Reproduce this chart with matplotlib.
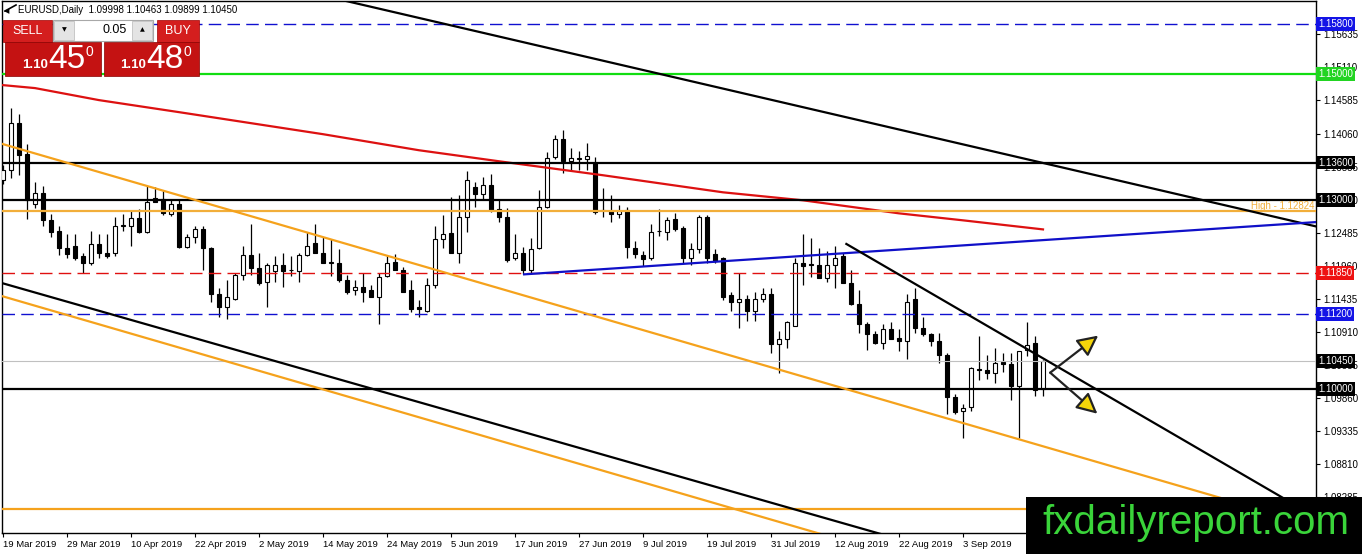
import numpy as np
import matplotlib
matplotlib.use("Agg")
import matplotlib.pyplot as plt
from matplotlib.patches import Rectangle

# ---- EURUSD daily candles, 19 Mar 2019 .. 17 Sep 2019 (bar index 0..130) ----
opens = [1.1332, 1.1348, 1.1423, 1.1373, 1.1294, 1.1311, 1.1268, 1.1251, 1.1225, 1.1228,
         1.1211, 1.1200, 1.1230, 1.1217, 1.1216, 1.1259, 1.1260, 1.1272, 1.1250, 1.1303,
         1.1302, 1.1278, 1.1294, 1.1226, 1.1241, 1.1255, 1.1224, 1.1152, 1.1130, 1.1144,
         1.1182, 1.1213, 1.1193, 1.1170, 1.1187, 1.1197, 1.1190, 1.1188, 1.1213, 1.1233,
         1.1217, 1.1200, 1.1200, 1.1173, 1.1158, 1.1163, 1.1157, 1.1146, 1.1180, 1.1202,
         1.1189, 1.1158, 1.1130, 1.1125, 1.1165, 1.1238, 1.1248, 1.1217, 1.1273, 1.1321,
         1.1310, 1.1324, 1.1286, 1.1273, 1.1209, 1.1216, 1.1190, 1.1224, 1.1289, 1.1368,
         1.1397, 1.1362, 1.1366, 1.1366, 1.1359, 1.1285, 1.1283, 1.1278, 1.1284, 1.1225,
         1.1213, 1.1208, 1.1251, 1.1250, 1.1270, 1.1256, 1.1208, 1.1222, 1.1273, 1.1215,
         1.1208, 1.1149, 1.1138, 1.1144, 1.1125, 1.1143, 1.1152, 1.1072, 1.1080, 1.1101,
         1.1200, 1.1199, 1.1197, 1.1176, 1.1197, 1.1211, 1.1168, 1.1136, 1.1104, 1.1088,
         1.1074, 1.1096, 1.1081, 1.1077, 1.1144, 1.1098, 1.1087, 1.1076, 1.1054, 1.0987,
         1.0965, 1.0971, 1.1032, 1.1031, 1.1025, 1.1044, 1.1040, 1.1005, 1.1062, 1.1073,
         1.09998]
highs = [1.1356, 1.1446, 1.1437, 1.1390, 1.1329, 1.1322, 1.1279, 1.1260, 1.1246, 1.1247,
         1.1216, 1.1251, 1.1246, 1.1246, 1.1273, 1.1279, 1.1284, 1.1286, 1.1322, 1.1321,
         1.1316, 1.1300, 1.1300, 1.1246, 1.1260, 1.1260, 1.1226, 1.1160, 1.1173, 1.1185,
         1.1227, 1.1263, 1.1216, 1.1201, 1.1211, 1.1216, 1.1211, 1.1216, 1.1249, 1.1262,
         1.1241, 1.1239, 1.1222, 1.1181, 1.1173, 1.1185, 1.1165, 1.1185, 1.1213, 1.1214,
         1.1194, 1.1173, 1.1141, 1.1177, 1.1260, 1.1276, 1.1305, 1.1308, 1.1346, 1.1329,
         1.1337, 1.1341, 1.1300, 1.1287, 1.1246, 1.1226, 1.1240, 1.1316, 1.1377, 1.1403,
         1.1411, 1.1383, 1.1379, 1.1391, 1.1369, 1.1319, 1.1308, 1.1292, 1.1290, 1.1236,
         1.1220, 1.1262, 1.1286, 1.1273, 1.1280, 1.1259, 1.1232, 1.1276, 1.1276, 1.1223,
         1.1210, 1.1154, 1.1185, 1.1149, 1.1154, 1.1160, 1.1160, 1.1093, 1.1109, 1.1209,
         1.1247, 1.1240, 1.1225, 1.1220, 1.1228, 1.1216, 1.1189, 1.1157, 1.1106, 1.1092,
         1.1104, 1.1106, 1.1096, 1.1152, 1.1160, 1.1114, 1.1090, 1.1090, 1.1058, 1.0992,
         1.0976, 1.1036, 1.1084, 1.1055, 1.1066, 1.1058, 1.1058, 1.1061, 1.1107, 1.1084,
         1.10463]
lows = [1.1326, 1.1335, 1.1340, 1.1271, 1.1287, 1.1260, 1.1241, 1.1213, 1.1208, 1.1206,
        1.1184, 1.1198, 1.1209, 1.1208, 1.1211, 1.1252, 1.1228, 1.1248, 1.1248, 1.1297,
        1.1276, 1.1275, 1.1225, 1.1224, 1.1233, 1.1189, 1.1138, 1.1115, 1.1111, 1.1142,
        1.1173, 1.1182, 1.1166, 1.1131, 1.1170, 1.1163, 1.1180, 1.1171, 1.1211, 1.1217,
        1.1200, 1.1180, 1.1171, 1.1152, 1.1149, 1.1139, 1.1146, 1.1104, 1.1178, 1.1189,
        1.1155, 1.1122, 1.1114, 1.1123, 1.1160, 1.1225, 1.1216, 1.1200, 1.1249, 1.1289,
        1.1300, 1.1282, 1.1265, 1.1202, 1.1206, 1.1183, 1.1184, 1.1222, 1.1287, 1.1366,
        1.1343, 1.1348, 1.1348, 1.1348, 1.1279, 1.1273, 1.1265, 1.1272, 1.1209, 1.1208,
        1.1195, 1.1206, 1.1244, 1.1237, 1.1252, 1.1201, 1.1198, 1.1217, 1.1201, 1.1201,
        1.1142, 1.1125, 1.1098, 1.1109, 1.1109, 1.1139, 1.1058, 1.1025, 1.1066, 1.1101,
        1.1165, 1.1178, 1.1176, 1.1170, 1.1160, 1.1168, 1.1133, 1.1090, 1.1063, 1.1072,
        1.1064, 1.1079, 1.1060, 1.1048, 1.1090, 1.1085, 1.1069, 1.1041, 1.0961, 1.0961,
        1.0923, 1.0966, 1.1014, 1.1017, 1.1010, 1.1028, 1.0983, 1.0923, 1.1053, 1.0990,
        1.09899]
closes = [1.1348, 1.1423, 1.1372, 1.1300, 1.1311, 1.1268, 1.1249, 1.1225, 1.1214, 1.1209,
          1.1200, 1.1230, 1.1217, 1.1211, 1.1260, 1.1261, 1.1272, 1.1250, 1.1297, 1.1297,
          1.1280, 1.1294, 1.1226, 1.1242, 1.1254, 1.1224, 1.1152, 1.1130, 1.1146, 1.1182,
          1.1213, 1.1193, 1.1168, 1.1198, 1.1197, 1.1187, 1.1189, 1.1213, 1.1228, 1.1217,
          1.1200, 1.1202, 1.1173, 1.1154, 1.1163, 1.1155, 1.1146, 1.1178, 1.1200, 1.1189,
          1.1155, 1.1127, 1.1128, 1.1166, 1.1238, 1.1247, 1.1217, 1.1273, 1.1332, 1.1310,
          1.1324, 1.1284, 1.1273, 1.1205, 1.1216, 1.1189, 1.1223, 1.1289, 1.1367, 1.1397,
          1.1362, 1.1367, 1.1367, 1.1371, 1.1281, 1.1284, 1.1278, 1.1283, 1.1226, 1.1214,
          1.1207, 1.1250, 1.1252, 1.1269, 1.1254, 1.1209, 1.1222, 1.1273, 1.1208, 1.1204,
          1.1146, 1.1138, 1.1144, 1.1125, 1.1143, 1.1152, 1.1072, 1.1080, 1.1106, 1.1200,
          1.1195, 1.1197, 1.1176, 1.1197, 1.1209, 1.1168, 1.1136, 1.1104, 1.1087, 1.1074,
          1.1096, 1.1080, 1.1077, 1.1139, 1.1098, 1.1088, 1.1076, 1.1054, 1.0987, 1.0964,
          1.0970, 1.1033, 1.1031, 1.1025, 1.1042, 1.1040, 1.1005, 1.1061, 1.1071, 1.0998,
          1.10450]

date_labels = ['19 Mar 2019', '29 Mar 2019', '10 Apr 2019', '22 Apr 2019', '2 May 2019',
               '14 May 2019', '24 May 2019', '5 Jun 2019', '17 Jun 2019', '27 Jun 2019',
               '9 Jul 2019', '19 Jul 2019', '31 Jul 2019', '12 Aug 2019', '22 Aug 2019',
               '3 Sep 2019']
date_every = 8

price_ticks = [1.15635, 1.15110, 1.14585, 1.14060, 1.13535, 1.13010, 1.12485, 1.11960,
               1.11435, 1.10910, 1.10385, 1.09860, 1.09335, 1.08810, 1.08285]

# moving average (red) read at a few bars
ma_bars = [0, 4, 12, 22, 40, 52, 62, 75, 90, 100, 112, 120, 130]
ma_vals = [1.14829, 1.14782, 1.14591, 1.14400, 1.14050, 1.13795, 1.13620, 1.13398,
           1.13127, 1.13000, 1.12793, 1.12682, 1.12538]

# horizontal levels
hl_prices = [1.1580, 1.1500, 1.1360, 1.1300, 1.12824, 1.1185, 1.1120, 1.1045, 1.1000, 1.0810]
hl_colors = ['#1010d0', '#11dd11', 'black', 'black', '#f2ae3a', '#e01010', '#1010d0',
             '#c0c0c0', 'black', '#f5a21c']
hl_dashed = [True, False, False, False, False, True, True, False, False, False]
hl_widths = [1.0, 1.6, 1.6, 1.6, 1.6, 1.0, 1.0, 0.8, 1.6, 1.6]

box_prices = [1.1580, 1.1500, 1.1360, 1.1300, 1.1185, 1.1120, 1.1045, 1.1000]
box_colors = ['#1414e6', '#22d422', 'black', 'black', '#ee1111', '#1414e6', 'black', 'black']

# trend lines: (bar, price) anchors
black_top = [(43.4, 1.16150), (130, 1.13593)]
orange_up = [(0, 1.13892), (130, 1.09094)]
orange_dn = [(0, 1.11474), (100, 1.07783)]
black_dn = [(0, 1.11681), (100, 1.08054)]
blue_tl = [(65, 1.11823), (130, 1.12368)]
black_short = [(105.3, 1.12316), (130, 1.10491)]
arrow_apex = (130.9, 1.10263)
arrow_up = (136.9, 1.10852)
arrow_down = (136.8, 1.09611)

W, H = 1362, 554
fig = plt.figure(figsize=(W / 100, H / 100), dpi=100)
plt.rcParams['font.family'] = ['Liberation Sans', 'DejaVu Sans']

ax_l, ax_r, ax_t, ax_b = 2, 1316, 1, 533
ax = fig.add_axes([ax_l / W, 1 - ax_b / H, (ax_r - ax_l) / W, (ax_b - ax_t) / H])
ax.set_xlim(-0.125, 164.125)
ax.set_ylim(1.07717, 1.16165)

# candles
n = len(opens)
x = np.arange(n)
o = np.array(opens); h = np.array(highs); l = np.array(lows); c = np.array(closes)
up = c >= o
ax.vlines(x, l, h, color='black', lw=0.9, zorder=2)
body = np.maximum(np.abs(c - o), 0.00004)
bottom = np.minimum(o, c)
ax.bar(x[up], body[up], bottom=bottom[up], width=0.62, color='white',
       edgecolor='black', linewidth=0.8, zorder=3)
ax.bar(x[~up], body[~up], bottom=bottom[~up], width=0.62, color='black',
       edgecolor='black', linewidth=0.8, zorder=3)

# moving average
ax.plot(ma_bars, ma_vals, color='#dd1111', lw=1.6, zorder=4)

# horizontal lines
for p, col, d, w in zip(hl_prices, hl_colors, hl_dashed, hl_widths):
    if d:
        ax.axhline(p, color=col, lw=w, dashes=(9, 4.5), zorder=4)
    else:
        ax.axhline(p, color=col, lw=w, zorder=4)

ax.text(0.9985, 1.12824 + 0.00008, 'High - 1.12824', transform=ax.get_yaxis_transform(),
        ha='right', va='bottom', fontsize=7, color='#f2ae3a', zorder=5)


def ray(pts, x0, x1):
    (a, pa), (b, pb) = pts
    k = (pb - pa) / (b - a)
    return [x0, x1], [pa + k * (x0 - a), pa + k * (x1 - a)]


for pts, col, x0 in [(black_top, 'black', 20), (orange_up, '#f5a21c', -5),
                     (orange_dn, '#f5a21c', -5), (black_dn, 'black', -5),
                     (blue_tl, '#1010c8', blue_tl[0][0]),
                     (black_short, 'black', black_short[0][0])]:
    xs, ys = ray(pts, x0, 170)
    ax.plot(xs, ys, color=col, lw=1.6, zorder=5, solid_capstyle='butt')

for tip in (arrow_up, arrow_down):
    ax.annotate('', xy=tip, xytext=arrow_apex,
                arrowprops=dict(arrowstyle='-|>,head_length=0.9,head_width=0.45',
                                fc='#f5d60a', ec='#222222', lw=1.6, mutation_scale=14,
                                shrinkA=0, shrinkB=0), zorder=6)

# axes style
for s in ax.spines.values():
    s.set_linewidth(1.0)
ax.yaxis.tick_right()
ax.set_yticks(price_ticks)
ax.set_yticklabels(['%.5f' % v for v in price_ticks])
ax.tick_params(axis='y', length=3, width=0.8, labelsize=7, pad=2)
ticks_x = np.arange(0, date_every * len(date_labels), date_every)
ax.set_xticks(ticks_x)
ax.set_xticklabels(date_labels, ha='left')
ax.tick_params(axis='x', length=3, width=0.8, labelsize=6.8, pad=2)

for p, col in zip(box_prices, box_colors):
    ax.text(1.0018, p, '%.5f' % p, transform=ax.get_yaxis_transform(), ha='left',
            va='center', fontsize=7, color='white', zorder=8, clip_on=False,
            bbox=dict(boxstyle='square,pad=0.2', fc=col, ec='none'))


# ---- top-left header and trade panel (figure pixel coords) ----
def rect(px, py, pw, ph, fc, ec='none', lw=0.0, z=10):
    fig.add_artist(Rectangle((px / W, 1 - (py + ph) / H), pw / W, ph / H,
                             transform=fig.transFigure, fc=fc, ec=ec, lw=lw, zorder=z))


def ftext(px, py, s, **kw):
    kw.setdefault('zorder', 11)
    fig.text(px / W, 1 - py / H, s, **kw)


ftext(18, 10, 'EURUSD,Daily  1.09998 1.10463 1.09899 1.10450', fontsize=7,
      va='center', ha='left', color='black')
fig.add_artist(plt.Line2D([5 / W, 16 / W], [1 - 11 / H, 1 - 5 / H], color='black', lw=1.2,
                          transform=fig.transFigure, zorder=11))
ftext(4, 11, '\u25c0', fontsize=5, va='center', ha='left', color='black',
      family='DejaVu Sans')

red_btn = '#d41e1e'
red_box = '#c41212'
rect(3, 20, 49, 22, red_btn, ec='#a00000', lw=0.5)
rect(157, 20, 42, 22, red_btn, ec='#a00000', lw=0.5)
rect(5, 42, 96, 34, red_box, ec='#8a0000', lw=0.5)
rect(104, 42, 95, 34, red_box, ec='#8a0000', lw=0.5)
rect(53, 20, 100, 21, 'white', ec='#a8a8a8', lw=0.8)
rect(54, 21, 20, 19, '#e4e4e4', ec='#b8b8b8', lw=0.5, z=10.5)
rect(132, 21, 20, 19, '#e4e4e4', ec='#b8b8b8', lw=0.5, z=10.5)
ftext(28, 31, 'SELL', fontsize=9, color='white', ha='center', va='center')
ftext(178, 31, 'BUY', fontsize=9, color='white', ha='center', va='center')
ftext(127, 30, '0.05', fontsize=9, color='black', ha='right', va='center')
ftext(64, 30, '\u25bc', fontsize=4.5, color='black', ha='center', va='center',
      family='DejaVu Sans')
ftext(142, 30, '\u25b2', fontsize=4.5, color='black', ha='center', va='center',
      family='DejaVu Sans')
for bx, big in [(22, '45'), (120, '48')]:
    ftext(bx, 65, '1.10', fontsize=9.5, color='white', ha='left', va='center',
          fontweight='bold')
    ftext(bx + 26, 60, big, fontsize=24, color='white', ha='left', va='center')
    ftext(bx + 64, 52, '0', fontsize=10, color='white', ha='left', va='center')

# watermark
rect(1026, 497, W - 1026, H - 497, 'black', z=12)
ftext(1042, 523, 'fxdailyreport.com', fontsize=29, color='#3ad43a', ha='left',
      va='center', zorder=13)

fig.savefig('out.png', dpi=100)
